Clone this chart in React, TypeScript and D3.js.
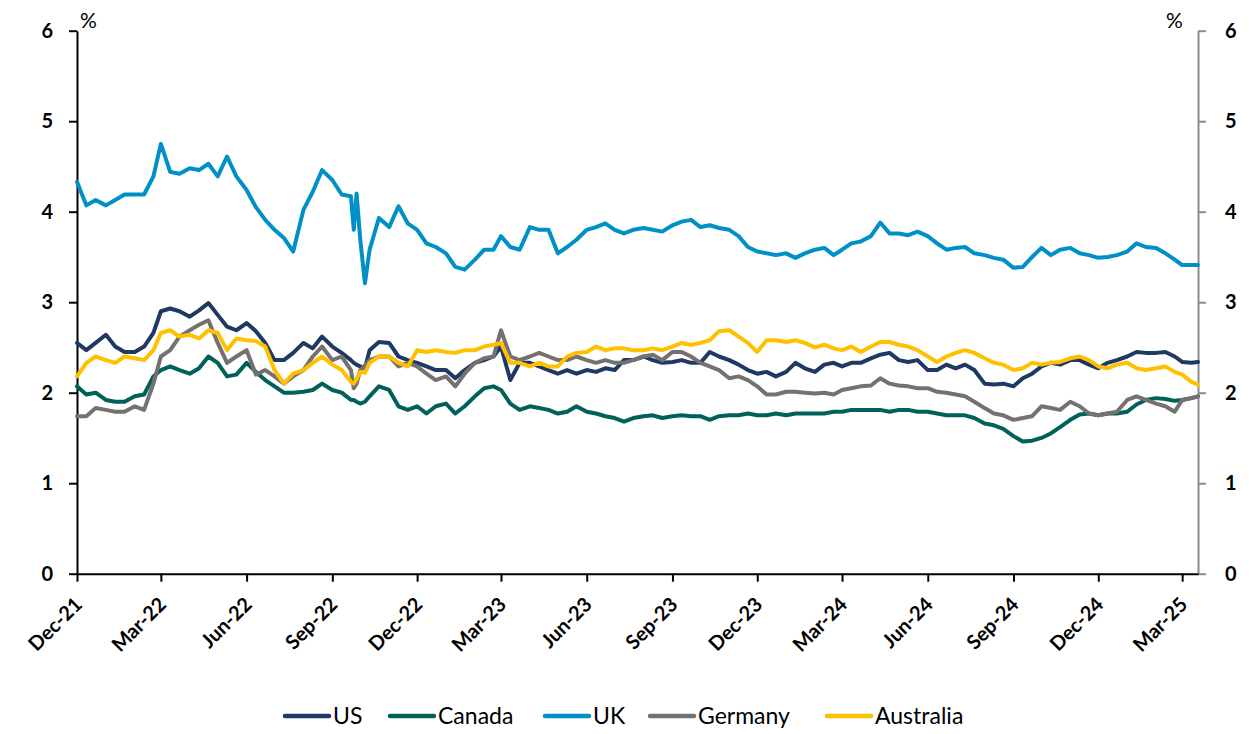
import React, { useRef, useEffect } from "react";
import * as d3 from "d3";

// sample dates (roughly every 10 days, plus a few extra around the Oct-22 gilt spike)
const dates = [
  "2021-12-01", "2021-12-11", "2021-12-21",
  "2022-01-01", "2022-01-11", "2022-01-21",
  "2022-02-01", "2022-02-11", "2022-02-21",
  "2022-03-01", "2022-03-11", "2022-03-21",
  "2022-04-01", "2022-04-11", "2022-04-21",
  "2022-05-01", "2022-05-11", "2022-05-21",
  "2022-06-01", "2022-06-11", "2022-06-21",
  "2022-07-01", "2022-07-11", "2022-07-21",
  "2022-08-01", "2022-08-11", "2022-08-21",
  "2022-09-01", "2022-09-11", "2022-09-21", "2022-09-24", "2022-09-27",
  "2022-10-01", "2022-10-06", "2022-10-11", "2022-10-21",
  "2022-11-01", "2022-11-11", "2022-11-21",
  "2022-12-01", "2022-12-11", "2022-12-21",
  "2023-01-01", "2023-01-11", "2023-01-21",
  "2023-02-01", "2023-02-11", "2023-02-21",
  "2023-03-01", "2023-03-11", "2023-03-21",
  "2023-04-01", "2023-04-11", "2023-04-21",
  "2023-05-01", "2023-05-11", "2023-05-21",
  "2023-06-01", "2023-06-11", "2023-06-21",
  "2023-07-01", "2023-07-11", "2023-07-21",
  "2023-08-01", "2023-08-11", "2023-08-21",
  "2023-09-01", "2023-09-11", "2023-09-21",
  "2023-10-01", "2023-10-11", "2023-10-21",
  "2023-11-01", "2023-11-11", "2023-11-21",
  "2023-12-01", "2023-12-11", "2023-12-21",
  "2024-01-01", "2024-01-11", "2024-01-21",
  "2024-02-01", "2024-02-11", "2024-02-21",
  "2024-03-01", "2024-03-11", "2024-03-21",
  "2024-04-01", "2024-04-11", "2024-04-21",
  "2024-05-01", "2024-05-11", "2024-05-21",
  "2024-06-01", "2024-06-11", "2024-06-21",
  "2024-07-01", "2024-07-11", "2024-07-21",
  "2024-08-01", "2024-08-11", "2024-08-21",
  "2024-09-01", "2024-09-11", "2024-09-21",
  "2024-10-01", "2024-10-11", "2024-10-21",
  "2024-11-01", "2024-11-11", "2024-11-21",
  "2024-12-01", "2024-12-11", "2024-12-21",
  "2025-01-01", "2025-01-11", "2025-01-21",
  "2025-02-01", "2025-02-11", "2025-02-21",
  "2025-03-01", "2025-03-11", "2025-03-18",
];

const us = [
  2.55, 2.47, 2.55,
  2.64, 2.51, 2.45, 2.45, 2.51, 2.66, 2.90, 2.93, 2.90,
  2.84, 2.91, 2.99, 2.86, 2.73, 2.69, 2.77, 2.68, 2.55,
  2.36, 2.36, 2.44, 2.55, 2.49, 2.62, 2.51, 2.44, 2.36, 2.33, 2.31,
  2.29, 2.27, 2.47, 2.56, 2.55, 2.40, 2.36, 2.33, 2.29, 2.25,
  2.25, 2.16, 2.25, 2.33, 2.36, 2.40, 2.51, 2.14, 2.33,
  2.33, 2.29, 2.25, 2.21, 2.25, 2.21, 2.25, 2.23, 2.27,
  2.25, 2.36, 2.36, 2.40, 2.36, 2.33, 2.34, 2.36, 2.33,
  2.33, 2.45, 2.40, 2.36, 2.31, 2.25, 2.21, 2.23, 2.18,
  2.23, 2.33, 2.27, 2.23, 2.31, 2.33, 2.29, 2.33, 2.33,
  2.38, 2.42, 2.44, 2.36, 2.34, 2.36, 2.25, 2.25, 2.31,
  2.27, 2.31, 2.25, 2.10, 2.09, 2.10, 2.07, 2.16, 2.21,
  2.29, 2.33, 2.31, 2.36, 2.36, 2.31, 2.27, 2.33, 2.36,
  2.40, 2.45, 2.44, 2.44, 2.45, 2.40, 2.34, 2.33, 2.34,
];

const canada = [
  2.07, 1.98, 2.00,
  1.92, 1.90, 1.90, 1.96, 1.98, 2.18, 2.25, 2.29, 2.25,
  2.21, 2.27, 2.40, 2.33, 2.18, 2.20, 2.33, 2.23, 2.14,
  2.07, 2.00, 2.00, 2.01, 2.03, 2.10, 2.03, 2.00, 1.92, 1.92, 1.90,
  1.88, 1.90, 1.96, 2.07, 2.03, 1.85, 1.81, 1.85, 1.77, 1.85,
  1.88, 1.77, 1.85, 1.96, 2.05, 2.07, 2.03, 1.88, 1.81,
  1.85, 1.83, 1.81, 1.77, 1.79, 1.85, 1.79, 1.77, 1.74,
  1.72, 1.68, 1.72, 1.74, 1.75, 1.72, 1.74, 1.75, 1.74,
  1.74, 1.70, 1.74, 1.75, 1.75, 1.77, 1.75, 1.75, 1.77,
  1.75, 1.77, 1.77, 1.77, 1.77, 1.79, 1.79, 1.81, 1.81,
  1.81, 1.81, 1.79, 1.81, 1.81, 1.79, 1.79, 1.77, 1.75,
  1.75, 1.75, 1.72, 1.66, 1.64, 1.60, 1.52, 1.46, 1.47,
  1.50, 1.55, 1.62, 1.70, 1.76, 1.77, 1.75, 1.77, 1.77,
  1.79, 1.87, 1.92, 1.94, 1.93, 1.91, 1.92, 1.94, 1.96,
];

const uk = [
  4.33, 4.07, 4.13,
  4.07, 4.13, 4.19, 4.19, 4.19, 4.39, 4.75, 4.44, 4.42,
  4.48, 4.46, 4.53, 4.39, 4.61, 4.39, 4.24, 4.05, 3.91,
  3.80, 3.71, 3.56, 4.02, 4.22, 4.46, 4.35, 4.19, 4.17, 3.80, 4.20,
  3.69, 3.21, 3.58, 3.93, 3.83, 4.06, 3.87, 3.80, 3.65, 3.61,
  3.54, 3.39, 3.36, 3.47, 3.58, 3.58, 3.73, 3.61, 3.58,
  3.83, 3.80, 3.80, 3.54, 3.61, 3.69, 3.80, 3.83, 3.87,
  3.80, 3.76, 3.80, 3.82, 3.80, 3.78, 3.85, 3.89, 3.91,
  3.83, 3.85, 3.82, 3.80, 3.73, 3.61, 3.56, 3.54, 3.52,
  3.54, 3.49, 3.54, 3.58, 3.60, 3.52, 3.58, 3.65, 3.67,
  3.73, 3.88, 3.76, 3.76, 3.74, 3.78, 3.73, 3.65, 3.58,
  3.60, 3.61, 3.54, 3.52, 3.49, 3.47, 3.38, 3.39, 3.50,
  3.60, 3.52, 3.58, 3.60, 3.54, 3.52, 3.49, 3.50, 3.52,
  3.56, 3.65, 3.61, 3.60, 3.54, 3.47, 3.41, 3.41, 3.41,
];

const germany = [
  1.74, 1.74, 1.83,
  1.81, 1.79, 1.79, 1.85, 1.81, 2.10, 2.40, 2.47, 2.62,
  2.69, 2.75, 2.80, 2.55, 2.33, 2.40, 2.47, 2.20, 2.25,
  2.18, 2.10, 2.18, 2.25, 2.40, 2.51, 2.36, 2.40, 2.25, 2.05, 2.10,
  2.25, 2.30, 2.36, 2.40, 2.40, 2.29, 2.33, 2.29, 2.21, 2.14,
  2.18, 2.07, 2.21, 2.33, 2.38, 2.40, 2.69, 2.40, 2.36,
  2.40, 2.44, 2.40, 2.36, 2.36, 2.40, 2.36, 2.33, 2.36,
  2.33, 2.33, 2.36, 2.40, 2.42, 2.36, 2.45, 2.45, 2.40,
  2.33, 2.29, 2.25, 2.16, 2.18, 2.14, 2.07, 1.98, 1.98,
  2.01, 2.01, 2.00, 1.99, 2.00, 1.98, 2.03, 2.05, 2.07,
  2.08, 2.16, 2.10, 2.08, 2.07, 2.05, 2.05, 2.01, 2.00,
  1.98, 1.96, 1.90, 1.83, 1.77, 1.75, 1.70, 1.72, 1.74,
  1.85, 1.83, 1.81, 1.90, 1.85, 1.77, 1.75, 1.77, 1.79,
  1.92, 1.96, 1.92, 1.88, 1.85, 1.79, 1.92, 1.94, 1.96,
];

const australia = [
  2.18, 2.33, 2.40,
  2.36, 2.33, 2.40, 2.38, 2.36, 2.47, 2.66, 2.69, 2.62,
  2.64, 2.60, 2.69, 2.66, 2.47, 2.60, 2.58, 2.57, 2.51,
  2.25, 2.10, 2.21, 2.25, 2.33, 2.40, 2.31, 2.25, 2.12, 2.10, 2.15,
  2.23, 2.22, 2.33, 2.40, 2.40, 2.33, 2.29, 2.47, 2.45, 2.47,
  2.45, 2.44, 2.47, 2.47, 2.51, 2.53, 2.55, 2.33, 2.33,
  2.29, 2.33, 2.29, 2.29, 2.40, 2.44, 2.45, 2.51, 2.47,
  2.49, 2.49, 2.47, 2.47, 2.49, 2.47, 2.51, 2.55, 2.53,
  2.55, 2.58, 2.68, 2.69, 2.62, 2.55, 2.45, 2.58, 2.58,
  2.56, 2.58, 2.55, 2.50, 2.53, 2.49, 2.47, 2.51, 2.45,
  2.51, 2.56, 2.56, 2.53, 2.51, 2.47, 2.40, 2.34, 2.40,
  2.44, 2.47, 2.44, 2.38, 2.33, 2.31, 2.25, 2.27, 2.33,
  2.31, 2.33, 2.34, 2.38, 2.40, 2.36, 2.29, 2.27, 2.31,
  2.33, 2.27, 2.25, 2.27, 2.29, 2.23, 2.20, 2.12, 2.09,
];

const seriesNames = ["US", "Canada", "UK", "Germany", "Australia"];
const seriesColors = ["#1F3864", "#00615A", "#0090C8", "#767171", "#FFC000"];
const seriesValues = [us, canada, uk, germany, australia];

const xTickDates = [
  "2021-12-01", "2022-03-01", "2022-06-01", "2022-09-01", "2022-12-01",
  "2023-03-01", "2023-06-01", "2023-09-01", "2023-12-01", "2024-03-01",
  "2024-06-01", "2024-09-01", "2024-12-01", "2025-03-01",
];
const yTicks = [0, 1, 2, 3, 4, 5, 6];

const FONT = "Lato, 'Liberation Sans', sans-serif";

export default function App() {
  const ref = useRef<SVGSVGElement>(null);
  const width = 1249;
  const height = 734;

  useEffect(() => {
    const svg = d3.select(ref.current);
    svg.selectAll("*").remove();

    const parse = d3.timeParse("%Y-%m-%d");
    const xs = dates.map((d) => parse(d) as Date);
    const left = 77;
    const right = 1198;
    const top = 30.7;
    const bottom = 573.7;

    const x = d3
      .scaleTime()
      .domain([parse("2021-12-01") as Date, parse("2025-03-18") as Date])
      .range([left, right]);
    const y = d3.scaleLinear().domain([0, 6]).range([bottom, top]);

    // left axis
    const gl = svg.append("g").attr("transform", `translate(${left},0)`);
    gl.call(d3.axisLeft(y).tickValues(yTicks).tickSize(8).tickSizeOuter(0).tickPadding(16).tickFormat(d3.format("d")));
    gl.selectAll("path, line").attr("stroke", "#000").attr("stroke-width", 2);
    gl.selectAll("text").attr("font-family", FONT).attr("font-size", 20).attr("font-weight", "bold").attr("fill", "#000");

    // right axis (grey)
    const gr = svg.append("g").attr("transform", `translate(${right},0)`);
    gr.call(d3.axisRight(y).tickValues(yTicks).tickSize(8).tickSizeOuter(0).tickPadding(19).tickFormat(d3.format("d")));
    gr.selectAll("path, line").attr("stroke", "#8C8C8C").attr("stroke-width", 2);
    gr.selectAll("text").attr("font-family", FONT).attr("font-size", 20).attr("font-weight", "bold").attr("fill", "#000");

    // bottom axis
    const gb = svg.append("g").attr("transform", `translate(0,${bottom})`);
    gb.call(
      d3
        .axisBottom(x)
        .tickValues(xTickDates.map((d) => parse(d) as Date))
        .tickSize(8)
        .tickSizeOuter(0)
        .tickFormat((d) => d3.timeFormat("%b-%y")(d as Date))
    );
    gb.selectAll("path, line").attr("stroke", "#000").attr("stroke-width", 2);
    gb.selectAll("text")
      .attr("font-family", FONT)
      .attr("font-size", 20)
      .attr("font-weight", "bold")
      .attr("fill", "#000")
      .attr("text-anchor", "end")
      .attr("x", 0)
      .attr("y", 0)
      .attr("dy", 0)
      .attr("transform", "translate(6,32) rotate(-45)");

    // % unit labels
    svg.append("text").attr("x", 80).attr("y", 28).attr("font-family", FONT).attr("font-size", 21).attr("fill", "#000").text("%");
    svg.append("text").attr("x", 1166).attr("y", 28).attr("font-family", FONT).attr("font-size", 21).attr("fill", "#000").text("%");

    // lines
    const line = d3
      .line<number>()
      .x((_, i) => x(xs[i]))
      .y((v) => y(v))
      .curve(d3.curveLinear);

    seriesValues.forEach((vals, k) => {
      svg
        .append("path")
        .datum(vals)
        .attr("d", line)
        .attr("fill", "none")
        .attr("stroke", seriesColors[k])
        .attr("stroke-width", 4)
        .attr("stroke-linejoin", "round")
        .attr("stroke-linecap", "round");
    });

    // legend
    const legendX = [283, 388, 543, 648, 825];
    const ly = 716;
    const lg = svg.append("g");
    seriesNames.forEach((name, k) => {
      lg.append("line")
        .attr("x1", legendX[k] + 2)
        .attr("x2", legendX[k] + 46)
        .attr("y1", ly)
        .attr("y2", ly)
        .attr("stroke", seriesColors[k])
        .attr("stroke-width", 4.5)
        .attr("stroke-linecap", "round");
      lg.append("text")
        .attr("x", legendX[k] + 50)
        .attr("y", ly)
        .attr("dy", "0.36em")
        .attr("font-family", FONT)
        .attr("font-size", 23)
        .attr("fill", "#000")
        .text(name);
    });
  }, []);

  return (
    <div style={{ position: "absolute", left: 0, top: 0 }}>
      <svg ref={ref} width={width} height={height} style={{ display: "block", background: "#fff" }} />
    </div>
  );
}
